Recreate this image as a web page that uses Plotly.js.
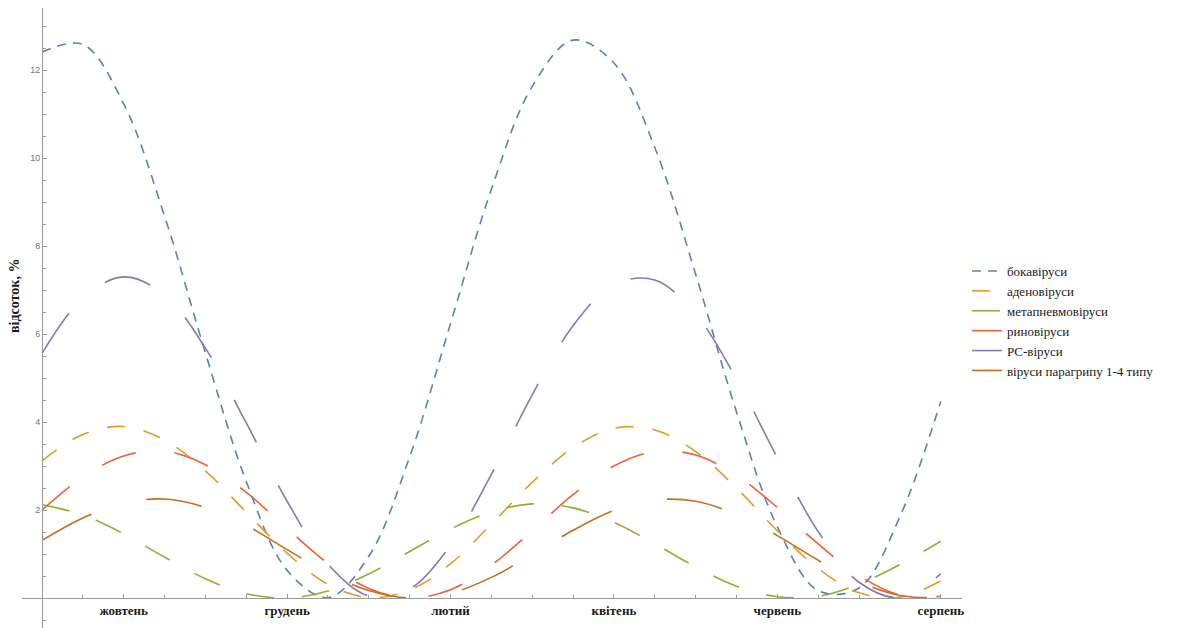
<!DOCTYPE html>
<html>
<head>
<meta charset="utf-8">
<script src="https://cdn.plot.ly/plotly-3.0.1.min.js"></script>
<style>html,body{margin:0;padding:0;background:#fff;}#chart{width:1187px;height:628px;}</style>
</head>
<body>
<div id="chart"></div>
<script>
// x positions in months from the start of the season (axis origin = start of September)
var tMonths = [0,0.5,1,1.5,2,2.5,3,3.5,4,4.5,5,5.5,6,6.5,7,7.5,8,8.5,9,9.5,10,10.5,11];

var monthTickVals = [1,3,5,7,9,11];
var monthLabels = ["жовтень","грудень","лютий","квітень","червень","серпень"];
var yTickVals = [2,4,6,8,10,12];
var yTitle = "відсоток, %";

var seriesNames = ["бокавіруси","аденовіруси","метапневмовіруси","риновіруси","РС-віруси","віруси парагрипу 1-4 типу"];

var boca = [12.41,12.58,11.23,8.68,5.57,2.65,0.63,0.01,0.95,3.21,6.24,9.29,11.63,12.68,12.16,10.24,7.36,4.23,1.62,0.17,0.23,1.85,4.47];
var adeno = [3.12,3.72,3.90,3.59,2.89,1.95,1.02,0.31,0.01,0.18,0.78,1.68,2.63,3.42,3.86,3.82,3.33,2.50,1.53,0.67,0.12,0.02,0.39];
var metapneumo = [2.12,1.89,1.46,0.93,0.44,0.10,0.00,0.16,0.55,1.06,1.57,1.96,2.14,2.05,1.72,1.23,0.71,0.27,0.03,0.04,0.32,0.76,1.29];
var rhino = [2.00,2.75,3.23,3.34,3.03,2.40,1.58,0.79,0.22,0.00,0.19,0.75,1.53,2.35,3.00,3.33,3.25,2.79,2.06,1.23,0.51,0.07,0.04];
var rsv = [5.56,6.82,7.30,6.89,5.68,3.98,2.20,0.77,0.05,0.21,1.20,2.81,4.62,6.19,7.13,7.23,6.45,4.98,3.19,1.51,0.36,0.01,0.55];
var parainfluenza = [1.31,1.82,2.16,2.25,2.06,1.65,1.10,0.57,0.17,0.00,0.11,0.47,0.99,1.54,1.99,2.23,2.20,1.90,1.42,0.86,0.37,0.06,0.01];

var allValues = [boca, adeno, metapneumo, rhino, rsv, parainfluenza];
var colors = ["#5E81B5","#E19C24","#8FB032","#EB6235","#8778B3","#C56E1A"];
var dashes = ["9px,7px","18px,19px","28px,28px","36px,39px","48px,48px","56px,57px"];

var traces = allValues.map(function(vals, i){
  return {
    x: tMonths,
    y: vals,
    name: seriesNames[i],
    type: "scatter",
    mode: "lines",
    line: {color: colors[i], width: 1.6, dash: dashes[i], shape: "spline", smoothing: 1},
    hoverinfo: "name+y"
  };
});

var axisGray = "#9a9a9a";
var serif = "Liberation Serif, Times New Roman, serif";
var layout = {
  width: 1187,
  height: 628,
  autosize: false,
  margin: {l: 22, r: 225, t: 8, b: 0, pad: 0},
  paper_bgcolor: "#ffffff",
  plot_bgcolor: "#ffffff",
  showlegend: true,
  legend: {
    x: 1.0053, xanchor: "left",
    y: 0.600, yanchor: "top",
    bgcolor: "rgba(0,0,0,0)",
    borderwidth: 0,
    font: {family: serif, size: 13, color: "#1a1a1a"}
  },
  xaxis: {
    range: [-0.245, 11.26],
    anchor: "free",
    position: 0.0484,
    showline: true,
    linecolor: axisGray,
    linewidth: 1,
    showgrid: false,
    zeroline: false,
    tickmode: "array",
    tickvals: monthTickVals,
    ticktext: monthLabels,
    ticks: "inside",
    ticklen: 4,
    tickwidth: 1,
    tickcolor: axisGray,
    tickfont: {family: serif, size: 13, color: "#1a1a1a", weight: "bold"},
    minor: {tickmode: "linear", tick0: 0, dtick: 0.5, ticks: "inside", ticklen: 3, tickcolor: axisGray, showgrid: false},
    fixedrange: true
  },
  yaxis: {
    range: [-0.68, 13.41],
    anchor: "free",
    position: 0.0213,
    showline: true,
    linecolor: axisGray,
    linewidth: 1,
    showgrid: false,
    zeroline: false,
    tickmode: "array",
    tickvals: yTickVals,
    ticks: "inside",
    ticklen: 4,
    tickwidth: 1,
    tickcolor: axisGray,
    tickfont: {family: "Liberation Sans, Arial, sans-serif", size: 9, color: "#777777"},
    minor: {tickmode: "linear", tick0: 0, dtick: 0.5, ticks: "inside", ticklen: 2.5, tickcolor: axisGray, showgrid: false},
    fixedrange: true
  },
  annotations: [{
    text: yTitle,
    xref: "paper", yref: "paper",
    x: -0.0075, xanchor: "center",
    y: 0.5355, yanchor: "middle",
    textangle: -90,
    showarrow: false,
    font: {family: serif, size: 14, color: "#1a1a1a", weight: "bold"}
  }]
};

Plotly.newPlot("chart", traces, layout, {displayModeBar: false});
</script>
</body>
</html>
